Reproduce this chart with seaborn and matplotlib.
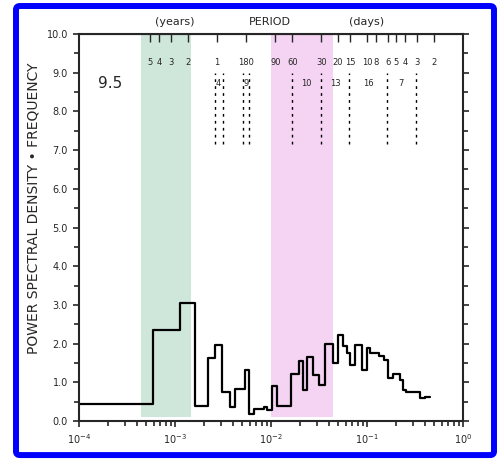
import numpy as np
import matplotlib
matplotlib.use("Agg")
import matplotlib.pyplot as plt
import seaborn as sns
from matplotlib.ticker import AutoMinorLocator, FixedLocator, FixedFormatter
from matplotlib.patches import FancyBboxPatch

# step spectrum: bin edges (log10 of frequency, cycles/day) and bin values
log_edges = [-4.0, -3.226, -2.948, -2.79, -2.66, -2.58, -2.507, -2.427, -2.375,
             -2.27, -2.226, -2.177, -2.073, -2.04, -1.986, -1.935, -1.79, -1.71,
             -1.67, -1.628, -1.56, -1.497, -1.44, -1.35, -1.30, -1.25, -1.21,
             -1.177, -1.125, -1.055, -0.997, -0.97, -0.88, -0.82, -0.78, -0.73,
             -0.66, -0.63, -0.594, -0.45, -0.396, -0.344]
psd_values = [0.45, 2.36, 3.06, 0.40, 1.64, 1.97, 0.76, 0.37, 0.82, 1.31, 0.18,
              0.30, 0.36, 0.29, 0.90, 0.39, 1.22, 1.54, 0.81, 1.65, 1.19, 0.94,
              2.00, 1.51, 2.22, 1.93, 1.76, 1.45, 1.97, 1.31, 1.89, 1.76, 1.67,
              1.58, 1.11, 1.22, 1.06, 0.81, 0.74, 0.59, 0.62]

# top period axis
period_days = [5 * 365.25, 4 * 365.25, 3 * 365.25, 2 * 365.25, 365.25, 180, 90,
               60, 30, 20, 15, 10, 8, 6, 5, 4, 3, 2]
period_labels = ["5", "4", "3", "2", "1", "180", "90", "60", "30", "20", "15",
                 "10", "8", "6", "5", "4", "3", "2"]

# dashed peak markers (period in days) and their numbers
peak_periods = [383, 314, 197, 168, 60, 30, 15.3, 6.15, 3.1]
peak_label_freq = [2.84e-3, 5.5e-3, 0.0235, 0.0465, 0.103, 0.226]
peak_labels = ["4", "9", "10", "13", "16", "7"]

# shaded bands (frequency)
green_band = (4.4e-4, 1.47e-3)
pink_band = (0.01, 0.044)

freqs = 10 ** np.array(log_edges)
vals = np.append(psd_values, psd_values[-1])

sns.set_style("ticks")
plt.rcParams["font.family"] = ["DejaVu Sans"]

fig = plt.figure(figsize=(5, 4.62), dpi=100)
ax = fig.add_axes([0.158, 0.0887, 0.768, 0.8377])

ax.axvspan(*green_band, ymin=0.011, ymax=1, color="#cfe6da", lw=0, zorder=0)
ax.axvspan(*pink_band, ymin=0.011, ymax=1, color="#f5d3f2", lw=0, zorder=0)

sns.lineplot(x=freqs, y=vals, drawstyle="steps-post", color="black", lw=1.6,
             estimator=None, sort=False, ax=ax)

ax.set_xscale("log")
ax.set_xlim(1e-4, 1)
ax.set_ylim(0, 10)
ax.set_yticks(np.arange(0, 11, 1))
ax.set_yticklabels([f"{v:.1f}" for v in range(11)])
ax.yaxis.set_minor_locator(AutoMinorLocator(2))
ax.tick_params(which="both", direction="out", labelsize=7, width=1.2,
               right=True, top=False)
ax.tick_params(which="major", length=4.5)
ax.tick_params(which="minor", length=3.5)
for s in ax.spines.values():
    s.set_linewidth(1.5)
    s.set_visible(True)

ax.set_ylabel("POWER SPECTRAL DENSITY • FREQUENCY", fontsize=10)
ax.yaxis.set_label_coords(-0.10, 0.55)

# period ticks along the top, labels inside the frame
top = ax.secondary_xaxis("top")
top.xaxis.set_major_locator(FixedLocator([1 / p for p in period_days]))
top.xaxis.set_major_formatter(FixedFormatter(period_labels))
top.xaxis.set_minor_locator(FixedLocator([]))
top.tick_params(direction="in", length=6, width=1, labelsize=6, pad=-24)

for p in peak_periods:
    ax.plot([1 / p, 1 / p], [7.15, 9.0], color="black", lw=1,
            linestyle=(0, (2, 3)))
for f, lab in zip(peak_label_freq, peak_labels):
    ax.text(f, 8.72, lab, fontsize=6, ha="center", va="center")

ax.text(2.1e-4, 8.72, "9.5", fontsize=11, ha="center", va="center")
ax.text(1e-3, 10.3, "(years)", fontsize=8, ha="center", va="center")
ax.text(9.8e-3, 10.3, "PERIOD", fontsize=8, ha="center", va="center")
ax.text(0.1, 10.3, "(days)", fontsize=8, ha="center", va="center")

border = FancyBboxPatch((0.032, 0.015), 0.956, 0.972,
                        boxstyle="round,pad=0,rounding_size=0.008",
                        transform=fig.transFigure, fill=False,
                        ec="#0000ff", lw=4.3)
fig.patches.append(border)

fig.savefig("out.png", dpi=100)
